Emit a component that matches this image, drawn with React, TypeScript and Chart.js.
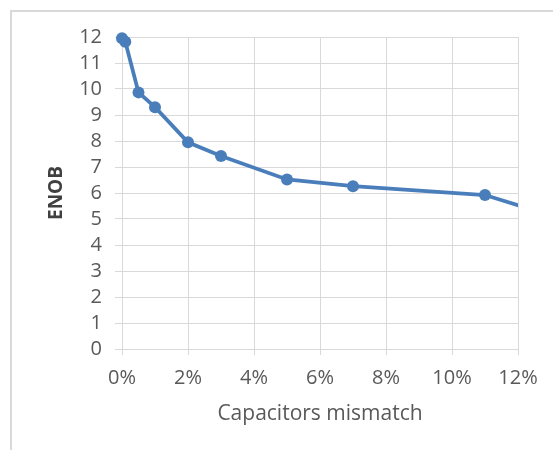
import React, { useEffect, useRef } from "react";
import { Chart, registerables } from "chart.js";

Chart.register(...registerables);

const mismatch: number[] = [0, 0.001, 0.005, 0.01, 0.02, 0.03, 0.05, 0.07, 0.11, 0.15];
const enob: number[] = [11.95, 11.82, 9.87, 9.3, 7.95, 7.42, 6.52, 6.26, 5.92, 4.35];
const xTicks: number[] = [0, 0.02, 0.04, 0.06, 0.08, 0.1, 0.12];
const yTicks: number[] = [0, 1, 2, 3, 4, 5, 6, 7, 8, 9, 10, 11, 12];
const xTitle = "Capacitors mismatch";
const yTitle = "ENOB";

const FONT = "'Open Sans', 'Liberation Sans', sans-serif";
const BLUE = "#4a7ebb";
const GRID = "#d9d9d9";
const TEXT = "#595959";

export default function App() {
  const ref = useRef<HTMLCanvasElement | null>(null);
  useEffect(() => {
    if (!ref.current) return;
    const chart = new Chart(ref.current, {
      type: "line",
      data: {
        datasets: [
          {
            data: mismatch.map((x, i) => ({ x, y: enob[i] })),
            borderColor: BLUE,
            backgroundColor: BLUE,
            borderWidth: 3.75,
            pointRadius: 6,
            pointBorderWidth: 0,
            pointBackgroundColor: BLUE,
            tension: 0,
            clip: { left: false, top: false, bottom: false, right: 0 },
          } as any,
        ],
      },
      options: {
        animation: false,
        responsive: false,
        events: [],
        layout: { padding: { top: 37, right: 35, left: 0, bottom: 0 } },
        plugins: { legend: { display: false }, tooltip: { enabled: false } },
        scales: {
          x: {
            type: "linear",
            min: 0,
            max: 0.12,
            afterBuildTicks: (s: any) => {
              s.ticks = xTicks.map((v) => ({ value: v }));
            },
            afterFit: (s: any) => {
              s.height = 101;
            },
            ticks: {
              color: TEXT,
              font: { family: FONT, size: 20 },
              padding: 11,
              maxRotation: 0,
              autoSkip: false,
              callback: (v: any) => Math.round(Number(v) * 100) + "%",
            },
            grid: { color: GRID, lineWidth: 1, tickLength: 6, drawTicks: true },
            border: { color: GRID, width: 1 },
            title: {
              display: true,
              text: xTitle,
              color: TEXT,
              font: { family: FONT, size: 21 },
              padding: { top: 0, bottom: 23 },
            },
          },
          y: {
            type: "linear",
            min: 0,
            max: 12,
            afterBuildTicks: (s: any) => {
              s.ticks = yTicks.map((v) => ({ value: v }));
            },
            afterFit: (s: any) => {
              s.width = 122;
            },
            ticks: {
              color: TEXT,
              font: { family: FONT, size: 20 },
              padding: 13,
              autoSkip: false,
            },
            grid: { color: GRID, lineWidth: 1, tickLength: 7, drawTicks: true },
            border: { color: GRID, width: 1 },
            title: {
              display: true,
              text: yTitle,
              color: "#404040",
              font: { family: FONT, size: 19, weight: "bold" },
              padding: { top: 45, bottom: 0 },
            },
          },
        },
      },
    });
    return () => chart.destroy();
  }, []);

  return (
    <div style={{ position: "fixed", left: 0, top: 0, width: 553, height: 450, background: "#fff" }}>
      <div
        style={{
          position: "absolute",
          left: 10,
          top: 10,
          width: 543,
          height: 440,
          borderLeft: "2px solid #d9d9d9",
          borderTop: "2px solid #d9d9d9",
          boxSizing: "border-box",
        }}
      />
      <canvas ref={ref} width={553} height={450} style={{ position: "absolute", left: 0, top: 0 }} />
    </div>
  );
}
